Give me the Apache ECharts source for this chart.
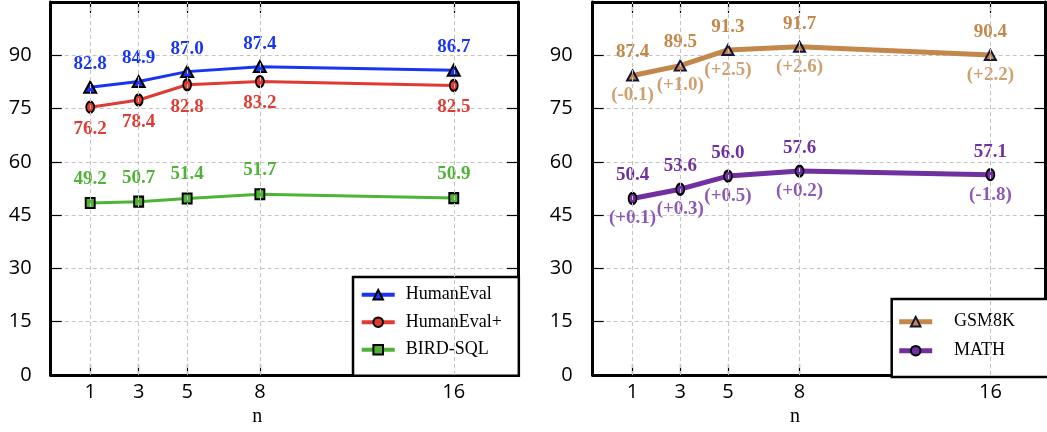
<!DOCTYPE html>
<html>
<head>
<meta charset="utf-8">
<script src="https://cdn.jsdelivr.net/npm/echarts@6/dist/echarts.min.js"></script>
<style>
html,body{margin:0;padding:0;background:#fff;}
#chart{width:1047px;height:432px;}
</style>
</head>
<body>
<div id="chart"></div>
<script>
// ---- data ----
const nValues = [1, 3, 5, 8, 16];
const yTicks = [0, 15, 30, 45, 60, 75, 90];

const humanEval = [81.0, 82.6, 85.4, 86.8, 85.8];
const humanEvalLabels = ['82.8', '84.9', '87.0', '87.4', '86.7'];
const humanEvalPlus = [75.4, 77.4, 81.7, 82.6, 81.5];
const humanEvalPlusLabels = ['76.2', '78.4', '82.8', '83.2', '82.5'];
const birdSql = [48.4, 48.8, 49.7, 50.9, 49.8];
const birdSqlLabels = ['49.2', '50.7', '51.4', '51.7', '50.9'];

const gsm8k = [84.3, 87.1, 91.5, 92.4, 90.1];
const gsm8kLabels = ['87.4', '89.5', '91.3', '91.7', '90.4'];
const gsm8kDiff = ['(-0.1)', '(+1.0)', '(+2.5)', '(+2.6)', '(+2.2)'];
const math = [49.7, 52.3, 56.0, 57.4, 56.4];
const mathLabels = ['50.4', '53.6', '56.0', '57.6', '57.1'];
const mathDiff = ['(+0.1)', '(+0.3)', '(+0.5)', '(+0.2)', '(-1.8)'];

// ---- helpers ----
const pairs = arr => nValues.map((n, i) => [n, arr[i]]);
const SERIF = '"Liberation Serif", "Times New Roman", serif';
const SANS = '"Open Sans", sans-serif';

function labelCfg(texts, color, dy) {
  return {
    show: true, position: 'inside', offset: [0, dy],
    formatter: p => texts[p.dataIndex],
    color: color, fontFamily: SERIF, fontWeight: 'bold', fontSize: 19
  };
}

function mainSeries(name, g, arr, texts, color, symbol, size, border, lw, dy) {
  return {
    name: name, type: 'line', xAxisIndex: g * 2, yAxisIndex: g * 2,
    data: pairs(arr), z: 3, silent: true,
    symbol: symbol, symbolSize: size,
    lineStyle: { color: color, width: lw },
    itemStyle: { color: color, borderColor: border, borderWidth: 2 },
    label: labelCfg(texts, color, dy)
  };
}

function textSeries(name, g, arr, texts, color, dy) {
  return {
    name: name, type: 'scatter', xAxisIndex: g * 2, yAxisIndex: g * 2,
    data: pairs(arr), z: 4, silent: true, symbolSize: 1,
    itemStyle: { color: 'rgba(0,0,0,0)' },
    label: labelCfg(texts, color, dy)
  };
}

function gridSeries(g, arr) {
  return {
    name: 'grid' + g, type: 'line', xAxisIndex: g * 2, yAxisIndex: g * 2,
    data: pairs(arr), z: 1, silent: true, showSymbol: false, symbol: 'none',
    lineStyle: { opacity: 0 },
    markLine: {
      silent: true, symbol: ['none', 'none'], label: { show: false },
      lineStyle: { color: '#c4c4c4', type: [4, 3], width: 1 },
      data: nValues.map(v => ({ xAxis: v }))
    }
  };
}

const border = { show: true, onZero: false, lineStyle: { color: '#000', width: 3 } };
const tickStyle = { color: '#000', width: 1.2 };

function xAxes(g, min, max, namePad) {
  return [
    {
      gridIndex: g, type: 'value', position: 'bottom', min: min, max: max,
      axisLine: border,
      axisTick: { show: true, inside: true, length: 11, customValues: nValues, lineStyle: tickStyle },
      axisLabel: { customValues: nValues, margin: 7, fontFamily: SANS, fontSize: 20, color: '#000' },
      splitLine: { show: false },
      name: 'n', nameLocation: 'middle', nameGap: 32,
      nameTextStyle: { fontFamily: SERIF, fontSize: 20, color: '#000', padding: [0, namePad, 0, 0] }
    },
    {
      gridIndex: g, type: 'value', position: 'top', min: min, max: max,
      axisLine: border,
      axisTick: { show: true, inside: true, length: 11, customValues: nValues, lineStyle: tickStyle },
      axisLabel: { show: false },
      splitLine: { show: false }
    }
  ];
}

function yAxes(g, margin) {
  return [
    {
      gridIndex: g, type: 'value', position: 'left', min: 0, max: 105, interval: 15,
      axisLine: border,
      axisTick: { show: true, inside: true, length: 11, lineStyle: tickStyle },
      axisLabel: { customValues: yTicks, margin: margin, fontFamily: SANS, fontSize: 20, color: '#000', padding: [0, 0, 6, 0] },
      splitLine: { show: true, lineStyle: { color: '#c4c4c4', type: [4, 3], width: 1 } }
    },
    {
      gridIndex: g, type: 'value', position: 'right', min: 0, max: 105, interval: 15,
      axisLine: border,
      axisTick: { show: true, inside: true, length: 11, lineStyle: tickStyle },
      axisLabel: { show: false },
      splitLine: { show: false }
    }
  ];
}

function legendText(gap) {
  return {
    fontFamily: SERIF, fontSize: 18, color: '#000', lineHeight: 18,
    rich: { t: { fontFamily: SERIF, fontSize: 18, color: '#000', lineHeight: 18, padding: [0, 0, 0, gap] } }
  };
}

const legendCommon = {
  orient: 'vertical', itemWidth: 33, itemHeight: 12,
  backgroundColor: '#fff', borderColor: '#000', borderWidth: 2.5, borderRadius: 0,
  selectedMode: false,
  formatter: name => '{t|' + name + '}'
};

const BLUE = '#1a35f2', RED = '#e03a32', GREEN = '#4fb335', TAN = '#c3874a', PURPLE = '#7030a0';

const option = {
  animation: false,
  backgroundColor: '#fff',
  grid: [
    { left: 50.7, top: 2, width: 467.3, height: 374.8 },
    { left: 592.7, top: 2, width: 452.8, height: 374.8 }
  ],
  xAxis: [...xAxes(0, -0.63, 18.65, 54), ...xAxes(1, -0.67, 18.31, 48)],
  yAxis: [...yAxes(0, 19), ...yAxes(1, 20)],
  legend: [
    Object.assign({}, legendCommon, {
      data: ['HumanEval', 'HumanEval+', 'BIRD-SQL'],
      left: 353, top: 277, itemGap: 9.5,
      padding: [8.7, 17, 17, 6.7],
      lineStyle: { width: 4 },
      textStyle: legendText(6)
    }),
    Object.assign({}, legendCommon, {
      data: ['GSM8K', 'MATH'],
      left: 891.7, top: 299, itemGap: 11,
      padding: [13.7, 34, 17.3, 5],
      lineStyle: { width: 5 },
      textStyle: legendText(16.7)
    })
  ],
  series: [
    gridSeries(0, birdSql),
    gridSeries(1, math),
    mainSeries('HumanEval', 0, humanEval, humanEvalLabels, BLUE, 'triangle', [12, 11], '#000', 3, -23),
    mainSeries('HumanEval+', 0, humanEvalPlus, humanEvalPlusLabels, RED, 'circle', [8, 11], '#000', 3, 22),
    mainSeries('BIRD-SQL', 0, birdSql, birdSqlLabels, GREEN, 'rect', [9, 10], '#000', 3, -24),
    mainSeries('GSM8K', 1, gsm8k, gsm8kLabels, TAN, 'triangle', [11, 10], '#15153a', 5, -23),
    textSeries('GSM8K diff', 1, gsm8k, gsm8kDiff, TAN, 20),
    mainSeries('MATH', 1, math, mathLabels, PURPLE, 'circle', [8, 11], '#000', 5, -23),
    textSeries('MATH diff', 1, math, mathDiff, PURPLE, 20)
  ]
};

const chart = echarts.init(document.getElementById('chart'), null, { renderer: 'canvas' });
chart.setOption(option);
</script>
</body>
</html>
